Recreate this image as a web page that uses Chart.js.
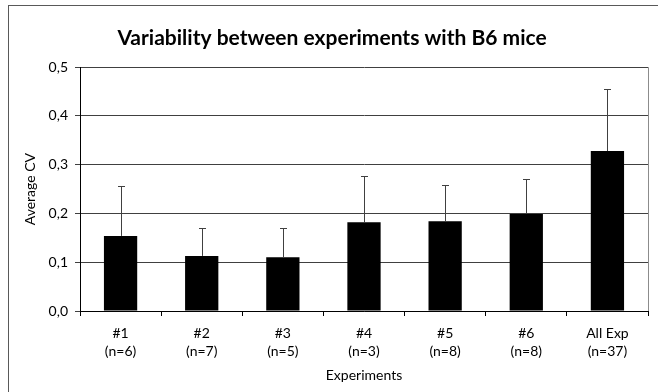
<!DOCTYPE html>
<html>
<head>
<meta charset="utf-8">
<script src="https://cdn.jsdelivr.net/npm/chart.js@4"></script>
<style>
  html, body { margin: 0; padding: 0; background: #fff; }
  #wrap { width: 658px; height: 392px; position: relative; }
</style>
</head>
<body>
<div id="wrap"><canvas id="myChart" width="658" height="392"></canvas></div>
<script>
// values
const experiments = [['#1', '(n=6)'], ['#2', '(n=7)'], ['#3', '(n=5)'], ['#4', '(n=3)'], ['#5', '(n=8)'], ['#6', '(n=8)'], ['All Exp', '(n=37)']];
const avgCV = [0.154, 0.113, 0.110, 0.182, 0.184, 0.199, 0.328];
const sdCV = [0.102, 0.058, 0.060, 0.094, 0.074, 0.072, 0.128];
const yTicks = [0, 0.1, 0.2, 0.3, 0.4, 0.5];

const FONT = 'Lato, "Open Sans", sans-serif';

// outer frame of the chart box (only left + top edges are inside the picture)
const framePlugin = {
  id: 'frame',
  beforeDraw(chart) {
    const ctx = chart.ctx;
    ctx.save();
    ctx.fillStyle = '#fff';
    ctx.fillRect(0, 0, chart.width, chart.height);
    ctx.strokeStyle = '#595959';
    ctx.lineWidth = 1;
    ctx.strokeRect(8.5, 5.5, 800, 600);
    ctx.restore();
  }
};

// upward error bars + right edge of the plot area
const errorBarPlugin = {
  id: 'errorBars',
  afterDatasetsDraw(chart) {
    const ctx = chart.ctx;
    const meta = chart.getDatasetMeta(0);
    const y = chart.scales.y;
    ctx.save();
    ctx.strokeStyle = '#404040';
    ctx.lineWidth = 1;
    meta.data.forEach((bar, i) => {
      const x = Math.round(bar.x) + 0.5;
      const yTop = Math.round(y.getPixelForValue(avgCV[i] + sdCV[i])) + 0.5;
      const yBase = y.getPixelForValue(avgCV[i]);
      ctx.beginPath();
      ctx.moveTo(x, yBase);
      ctx.lineTo(x, yTop);
      ctx.moveTo(x - 3.5, yTop);
      ctx.lineTo(x + 3.5, yTop);
      ctx.stroke();
    });
    const a = chart.chartArea;
    ctx.strokeStyle = '#8c8c8c';
    ctx.beginPath();
    ctx.moveTo(Math.round(a.right) + 0.5, a.top);
    ctx.lineTo(Math.round(a.right) + 0.5, a.bottom);
    ctx.stroke();
    ctx.restore();
  }
};

const config = {
  type: 'bar',
  data: {
    labels: experiments,
    datasets: [{
      data: avgCV,
      backgroundColor: '#000',
      borderWidth: 0,
      categoryPercentage: 1,
      barPercentage: 0.41
    }]
  },
  options: {
    responsive: false,
    animation: false,
    layout: { padding: { top: 0, left: 16, right: 10, bottom: 0 } },
    plugins: {
      legend: { display: false },
      tooltip: { enabled: false },
      title: {
        display: true,
        text: 'Variability between experiments with B6 mice',
        color: '#000',
        font: { family: FONT, size: 21, weight: 'bold', lineHeight: 1.2 },
        padding: { top: 26, bottom: 16 }
      }
    },
    scales: {
      x: {
        grid: { drawOnChartArea: false, drawTicks: true, tickLength: 5, color: '#000', offset: true },
        border: { color: '#000', width: 1 },
        ticks: {
          color: '#000',
          font: { family: FONT, size: 14, lineHeight: 1.3 },
          padding: 8,
          maxRotation: 0,
          autoSkip: false
        },
        title: {
          display: true,
          text: 'Experiments',
          color: '#000',
          font: { family: FONT, size: 14, lineHeight: 1.2 },
          padding: { top: 0, bottom: 8 }
        },
        afterFit(scale) { scale.height = 81; }
      },
      y: {
        min: 0,
        max: 0.5,
        afterBuildTicks(scale) { scale.ticks = yTicks.map(v => ({ value: v })); },
        grid: { color: '#404040', tickLength: 5, lineWidth: 1 },
        border: { color: '#000', width: 1 },
        ticks: {
          color: '#000',
          font: { family: FONT, size: 14 },
          padding: 7,
          callback: v => v.toFixed(1).replace('.', ',')
        },
        title: {
          display: true,
          text: 'Average CV',
          color: '#000',
          font: { family: FONT, size: 14, lineHeight: 1.2 },
          padding: { top: 6, bottom: 0 }
        },
        afterFit(scale) { scale.width = 64; }
      }
    }
  },
  plugins: [framePlugin, errorBarPlugin]
};

const myChart = new Chart(document.getElementById('myChart'), config);
</script>
</body>
</html>
